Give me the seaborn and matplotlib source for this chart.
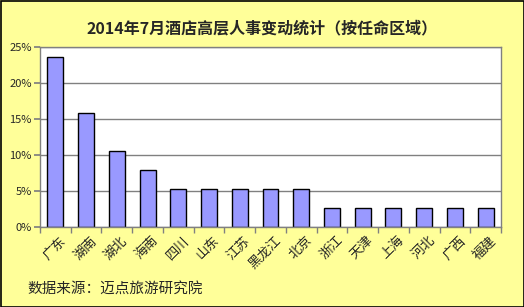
import matplotlib
matplotlib.use("Agg")
import matplotlib.pyplot as plt
import matplotlib.transforms as mtransforms
import seaborn as sns
import pandas as pd
from matplotlib.ticker import PercentFormatter, MultipleLocator
from matplotlib.patches import Rectangle

regions = ["广东", "湖南", "湖北", "海南", "四川", "山东", "江苏", "黑龙江", "北京",
           "浙江", "天津", "上海", "河北", "广西", "福建"]
shares = [23.68, 15.79, 10.53, 7.89, 5.26, 5.26, 5.26, 5.26, 5.26,
          2.63, 2.63, 2.63, 2.63, 2.63, 2.63]
title = "2014年7月酒店高层人事变动统计（按任命区域）"
source = "数据来源：迈点旅游研究院"

sns.set_theme(style="white")
plt.rcParams['font.family'] = ['Noto Sans CJK SC', 'DejaVu Sans']

df = pd.DataFrame({"region": regions, "share": shares})

bg = "#FFFF99"
fig = plt.figure(figsize=(5.24, 3.07), dpi=100, facecolor=bg)
ax = fig.add_axes([40/524, 1 - 227/307, 461/524, 180/307])
ax.set_facecolor("white")

sns.barplot(data=df, x="region", y="share", ax=ax, color="#9999FF",
            edgecolor="black", linewidth=1, width=0.52, saturation=1)

ax.set_ylim(0, 25)
ax.set_xlim(-0.5, len(regions) - 0.5)
ax.yaxis.set_major_locator(MultipleLocator(5))
ax.yaxis.set_major_formatter(PercentFormatter(decimals=0))
ax.grid(axis="y", color="#808080", linewidth=1)
ax.set_axisbelow(True)
ax.set_xlabel("")
ax.set_ylabel("")
for s in ["top", "right", "left", "bottom"]:
    ax.spines[s].set_color("#808080")
    ax.spines[s].set_linewidth(1)

ax.tick_params(axis="y", length=4, color="#808080", labelsize=8, pad=2, left=True)
ax.set_xticks([i - 0.5 for i in range(len(regions) + 1)], minor=True)
ax.tick_params(axis="x", which="major", length=0, labelsize=9.5, pad=5)
ax.tick_params(axis="x", which="minor", length=4, color="#808080", bottom=True, direction="out")
plt.setp(ax.get_xticklabels(), rotation=45, ha="right", rotation_mode="anchor")
offset = mtransforms.ScaledTranslation(4/100, 0, fig.dpi_scale_trans)
for lbl in ax.get_xticklabels():
    lbl.set_transform(lbl.get_transform() + offset)

fig.text(0.5, 1 - 28/307, title, ha="center", va="center", fontsize=11.5, fontweight="bold")
fig.text(27/524, 1 - 290/307, source, ha="left", va="center", fontsize=10.5)

fig.patches.append(Rectangle((0.5/524, 0.5/307), 1 - 1/524, 1 - 1/307, transform=fig.transFigure,
                             fill=False, edgecolor="black", linewidth=1.2))

fig.savefig("out.png", dpi=100, facecolor=bg)
